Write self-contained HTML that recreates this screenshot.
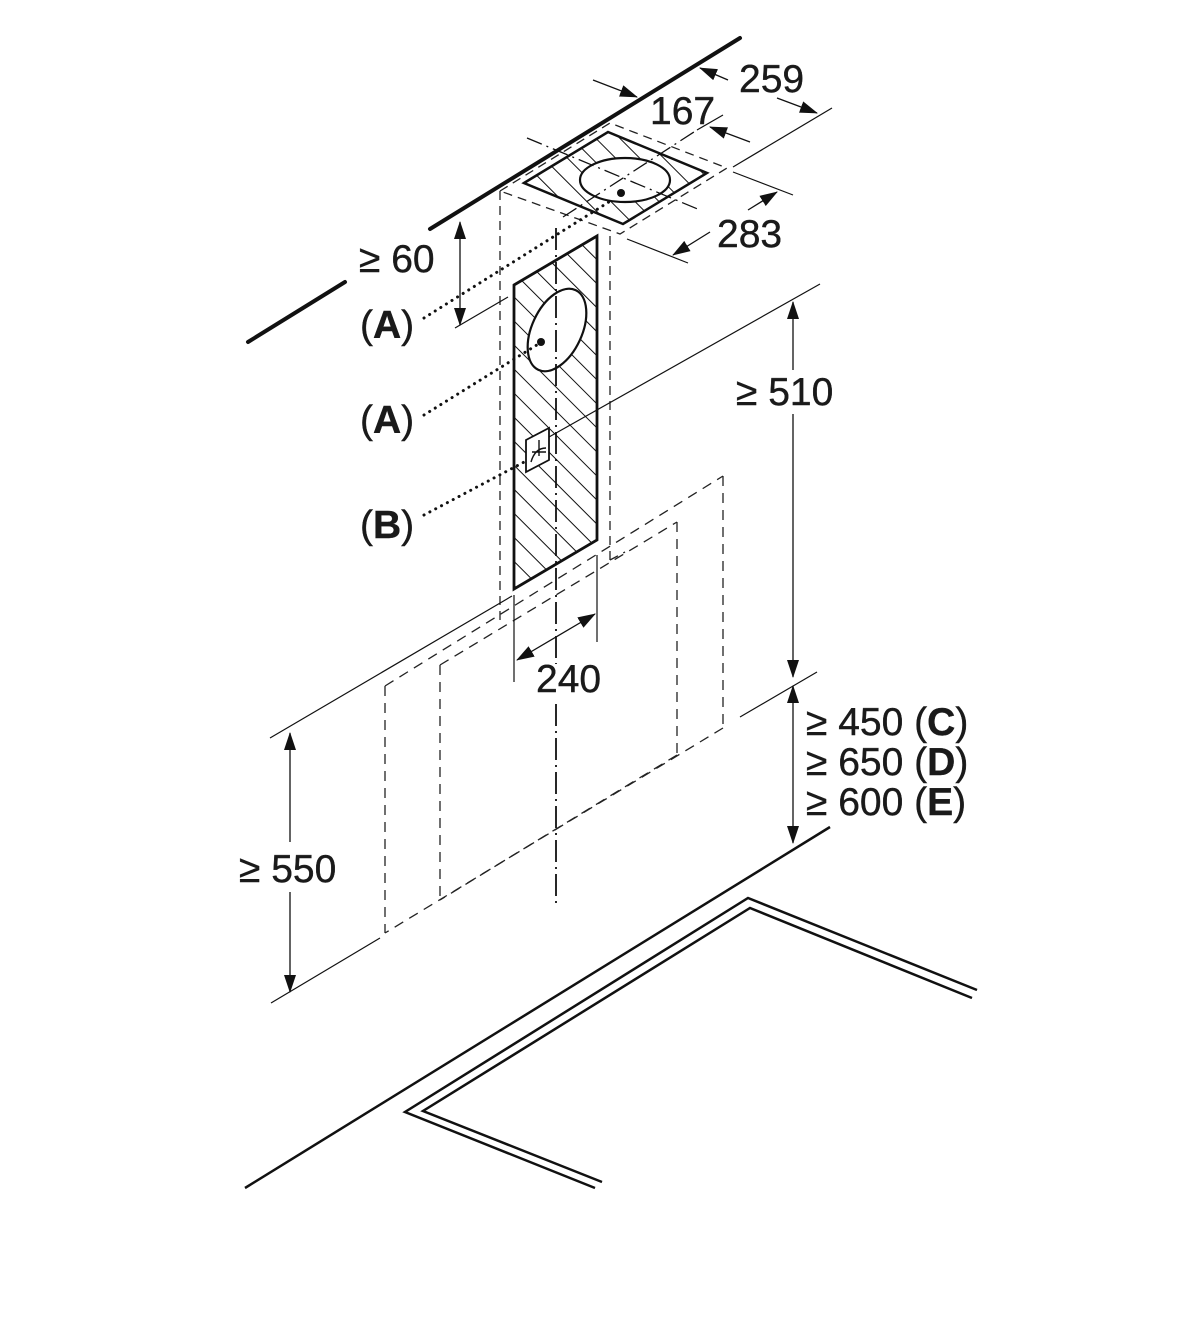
<!DOCTYPE html>
<html><head><meta charset="utf-8"><style>
html,body{margin:0;padding:0;background:#fff;}
svg{display:block}
text{font-family:"Liberation Sans",sans-serif;fill:#1a1a1a;stroke:#1a1a1a;stroke-width:0.4}
</style></head><body>
<svg width="1200" height="1321" viewBox="0 0 1200 1321" xmlns="http://www.w3.org/2000/svg">
<defs>
<pattern id="h" patternUnits="userSpaceOnUse" width="17" height="17" patternTransform="rotate(-45)">
<line x1="0" y1="0" x2="0" y2="17" stroke="#111" stroke-width="2"/>
</pattern>
<marker id="ar" markerWidth="18" markerHeight="12" refX="17" refY="6" orient="auto" markerUnits="userSpaceOnUse">
<path d="M0,0 L18,6 L0,12 Z" fill="#111"/>
</marker>
<marker id="al" markerWidth="18" markerHeight="12" refX="1" refY="6" orient="auto" markerUnits="userSpaceOnUse">
<path d="M18,0 L0,6 L18,12 Z" fill="#111"/>
</marker>
</defs>

<g stroke="#111" stroke-width="4" stroke-linecap="round">
<line x1="248" y1="342" x2="345" y2="282"/>
<line x1="430" y1="229" x2="740" y2="38"/>
</g>

<g fill="none" stroke="#222" stroke-width="1.3" stroke-dasharray="9 6">
<polygon points="500,191 610,123 727,168 620,234"/>
<line x1="500" y1="191" x2="500" y2="620"/>
<line x1="610" y1="236" x2="610" y2="560"/>
<line x1="610" y1="560" x2="625" y2="552"/>
</g>

<polygon points="524,183 608,132 707,173 623,224" fill="url(#h)" stroke="#111" stroke-width="2.5"/>
<ellipse cx="625" cy="180" rx="45" ry="22" fill="#fff" stroke="#111" stroke-width="2.2"/>
<circle cx="621" cy="193" r="4" fill="#111"/>
<g stroke="#111" stroke-width="1.3" stroke-dasharray="16 5 2 5">
<line x1="527" y1="138" x2="700" y2="210"/>
<line x1="563" y1="217" x2="697" y2="130"/>
</g>

<polygon points="514,285 597,236 597,540 514,589" fill="url(#h)" stroke="#111" stroke-width="2.8"/>
<ellipse cx="557" cy="330" rx="25" ry="44" transform="rotate(25 557 330)" fill="#fff" stroke="#111" stroke-width="2.2"/>
<circle cx="541" cy="342" r="4" fill="#111"/>
<polygon points="526,440 549,428 549,460 526,472" fill="#fff" stroke="#111" stroke-width="1.8"/>
<path d="M531,462 Q535,448 546,448 M539,440 L539,456 M532,452 L546,452" fill="none" stroke="#111" stroke-width="1.4"/>

<line x1="556" y1="228" x2="556" y2="905" stroke="#111" stroke-width="1.8" stroke-dasharray="22 5 2 5"/>

<g fill="none" stroke="#222" stroke-width="1.3" stroke-dasharray="10 7">
<line x1="385" y1="686" x2="723" y2="476"/>
<line x1="723" y1="476" x2="723" y2="728"/>
<line x1="723" y1="728" x2="385" y2="933"/>
<line x1="385" y1="686" x2="385" y2="933"/>
<line x1="440" y1="665" x2="677" y2="522"/>
<line x1="440" y1="665" x2="440" y2="900"/>
<line x1="677" y1="522" x2="677" y2="755"/>
<line x1="677" y1="755" x2="440" y2="900"/>
</g>

<g stroke="#111" stroke-width="1.2" fill="none">
<line x1="733" y1="167" x2="832" y2="108"/>
<line x1="697" y1="130" x2="723" y2="115"/>
<line x1="733" y1="172" x2="793" y2="195"/>
<line x1="627" y1="239" x2="688" y2="263"/>
<line x1="455" y1="328" x2="508" y2="297"/>
<line x1="549" y1="437" x2="820" y2="284"/>
<line x1="740" y1="717" x2="817" y2="672"/>
<line x1="270" y1="738" x2="512" y2="596"/>
<line x1="271" y1="1003" x2="380" y2="938"/>
<line x1="514" y1="595" x2="514" y2="682"/>
<line x1="597" y1="555" x2="597" y2="642"/>
</g>

<g stroke="#111" stroke-width="1.3" fill="none">
<line x1="593" y1="80" x2="637" y2="97" marker-end="url(#ar)"/>
<line x1="728" y1="80" x2="700" y2="68" marker-end="url(#ar)"/>
<line x1="777" y1="98" x2="817" y2="113" marker-end="url(#ar)"/>
<line x1="750" y1="142" x2="710" y2="127" marker-end="url(#ar)"/>
<line x1="748" y1="210" x2="777" y2="192" marker-end="url(#ar)"/>
<line x1="710" y1="232" x2="673" y2="255" marker-end="url(#ar)"/>
<line x1="460" y1="222" x2="460" y2="325" marker-start="url(#al)" marker-end="url(#ar)"/>
<line x1="793" y1="302" x2="793" y2="677" marker-start="url(#al)" marker-end="url(#ar)"/>
<line x1="793" y1="686" x2="793" y2="843" marker-start="url(#al)" marker-end="url(#ar)"/>
<line x1="290" y1="733" x2="290" y2="992" marker-start="url(#al)" marker-end="url(#ar)"/>
<line x1="517" y1="660" x2="595" y2="614" marker-start="url(#al)" marker-end="url(#ar)"/>
</g>
<rect x="280" y="842" width="20" height="50" fill="#fff"/>
<rect x="783" y="370" width="20" height="44" fill="#fff"/>
<rect x="540" y="664" width="30" height="36" fill="#fff"/>

<g stroke="#111" stroke-width="3" stroke-dasharray="0.1 6.5" stroke-linecap="round">
<line x1="424" y1="318" x2="612" y2="200"/>
<line x1="424" y1="415" x2="540" y2="343"/>
<line x1="424" y1="515" x2="528" y2="460"/>
</g>

<g stroke="#111" stroke-width="2.5" fill="none">
<line x1="245" y1="1188" x2="830" y2="827"/>
<polyline points="977,990 748,898 405,1112 595,1188"/>
<polyline points="972,998 750,908 423,1111 602,1182"/>
</g>

<g font-size="39">
<text x="739" y="92">259</text>
<text x="650" y="124">167</text>
<text x="717" y="247">283</text>
<text x="359" y="272">≥ 60</text>
<text x="736" y="405">≥ 510</text>
<text x="536" y="692">240</text>
<text x="806" y="735">≥ 450 (<tspan font-weight="bold">C</tspan>)</text>
<text x="806" y="775">≥ 650 (<tspan font-weight="bold">D</tspan>)</text>
<text x="806" y="815">≥ 600 (<tspan font-weight="bold">E</tspan>)</text>
<text x="239" y="882">≥ 550</text>
<text x="360" y="338">(<tspan font-weight="bold">A</tspan>)</text>
<text x="360" y="433">(<tspan font-weight="bold">A</tspan>)</text>
<text x="360" y="538">(<tspan font-weight="bold">B</tspan>)</text>
</g>
</svg>
</body></html>
